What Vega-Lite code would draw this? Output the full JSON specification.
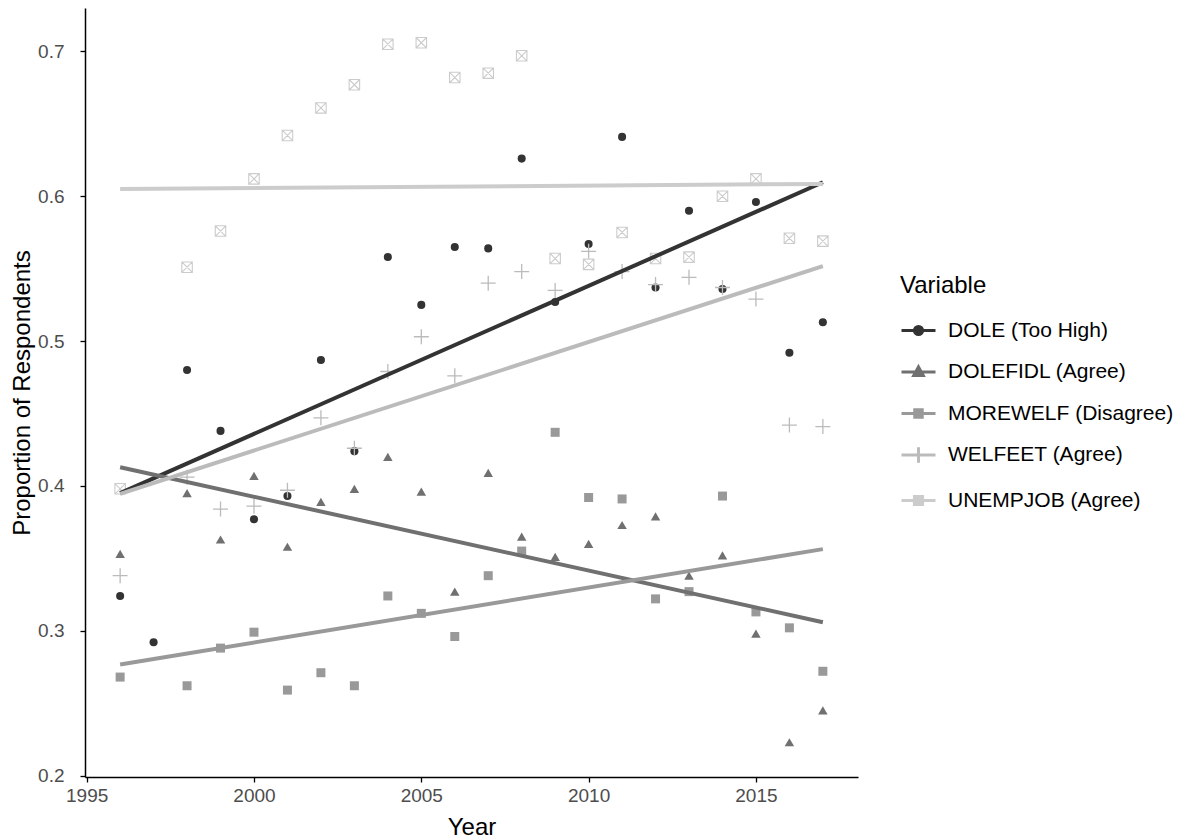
{
  "$schema": "https://vega.github.io/schema/vega-lite/v6.json",
  "width": 773,
  "height": 769,
  "autosize": {"type": "none"},
  "padding": {"left": 85, "top": 8, "right": 338, "bottom": 63},
  "background": "white",
  "config": {
    "font": "Liberation Sans",
    "view": {"stroke": null},
    "axis": {
      "grid": false,
      "domainColor": "#000000",
      "domainWidth": 1.5,
      "tickColor": "#000000",
      "tickWidth": 1.3,
      "tickSize": 5,
      "labelColor": "#4d4d4d",
      "labelFontSize": 19,
      "titleFontSize": 24,
      "titleFontWeight": "normal",
      "titleColor": "#000000"
    },
    "legend": {
      "titleFontSize": 24,
      "titleFontWeight": "normal",
      "titleColor": "#000000",
      "labelFontSize": 21,
      "labelColor": "#000000",
      "labelLimit": 400
    }
  },
  "data": {
    "values": [
      {"Year": 1996, "Variable": "DOLE (Too High)", "Proportion": 0.324},
      {"Year": 1997, "Variable": "DOLE (Too High)", "Proportion": 0.292},
      {"Year": 1998, "Variable": "DOLE (Too High)", "Proportion": 0.480},
      {"Year": 1999, "Variable": "DOLE (Too High)", "Proportion": 0.438},
      {"Year": 2000, "Variable": "DOLE (Too High)", "Proportion": 0.377},
      {"Year": 2001, "Variable": "DOLE (Too High)", "Proportion": 0.393},
      {"Year": 2002, "Variable": "DOLE (Too High)", "Proportion": 0.487},
      {"Year": 2003, "Variable": "DOLE (Too High)", "Proportion": 0.424},
      {"Year": 2004, "Variable": "DOLE (Too High)", "Proportion": 0.558},
      {"Year": 2005, "Variable": "DOLE (Too High)", "Proportion": 0.525},
      {"Year": 2006, "Variable": "DOLE (Too High)", "Proportion": 0.565},
      {"Year": 2007, "Variable": "DOLE (Too High)", "Proportion": 0.564},
      {"Year": 2008, "Variable": "DOLE (Too High)", "Proportion": 0.626},
      {"Year": 2009, "Variable": "DOLE (Too High)", "Proportion": 0.527},
      {"Year": 2010, "Variable": "DOLE (Too High)", "Proportion": 0.567},
      {"Year": 2011, "Variable": "DOLE (Too High)", "Proportion": 0.641},
      {"Year": 2012, "Variable": "DOLE (Too High)", "Proportion": 0.537},
      {"Year": 2013, "Variable": "DOLE (Too High)", "Proportion": 0.590},
      {"Year": 2014, "Variable": "DOLE (Too High)", "Proportion": 0.536},
      {"Year": 2015, "Variable": "DOLE (Too High)", "Proportion": 0.596},
      {"Year": 2016, "Variable": "DOLE (Too High)", "Proportion": 0.492},
      {"Year": 2017, "Variable": "DOLE (Too High)", "Proportion": 0.513},
      {"Year": 1996, "Variable": "DOLEFIDL (Agree)", "Proportion": 0.353},
      {"Year": 1998, "Variable": "DOLEFIDL (Agree)", "Proportion": 0.395},
      {"Year": 1999, "Variable": "DOLEFIDL (Agree)", "Proportion": 0.363},
      {"Year": 2000, "Variable": "DOLEFIDL (Agree)", "Proportion": 0.407},
      {"Year": 2001, "Variable": "DOLEFIDL (Agree)", "Proportion": 0.358},
      {"Year": 2002, "Variable": "DOLEFIDL (Agree)", "Proportion": 0.389},
      {"Year": 2003, "Variable": "DOLEFIDL (Agree)", "Proportion": 0.398},
      {"Year": 2004, "Variable": "DOLEFIDL (Agree)", "Proportion": 0.420},
      {"Year": 2005, "Variable": "DOLEFIDL (Agree)", "Proportion": 0.396},
      {"Year": 2006, "Variable": "DOLEFIDL (Agree)", "Proportion": 0.327},
      {"Year": 2007, "Variable": "DOLEFIDL (Agree)", "Proportion": 0.409},
      {"Year": 2008, "Variable": "DOLEFIDL (Agree)", "Proportion": 0.365},
      {"Year": 2009, "Variable": "DOLEFIDL (Agree)", "Proportion": 0.351},
      {"Year": 2010, "Variable": "DOLEFIDL (Agree)", "Proportion": 0.360},
      {"Year": 2011, "Variable": "DOLEFIDL (Agree)", "Proportion": 0.373},
      {"Year": 2012, "Variable": "DOLEFIDL (Agree)", "Proportion": 0.379},
      {"Year": 2013, "Variable": "DOLEFIDL (Agree)", "Proportion": 0.338},
      {"Year": 2014, "Variable": "DOLEFIDL (Agree)", "Proportion": 0.352},
      {"Year": 2015, "Variable": "DOLEFIDL (Agree)", "Proportion": 0.298},
      {"Year": 2016, "Variable": "DOLEFIDL (Agree)", "Proportion": 0.223},
      {"Year": 2017, "Variable": "DOLEFIDL (Agree)", "Proportion": 0.245},
      {"Year": 1996, "Variable": "MOREWELF (Disagree)", "Proportion": 0.268},
      {"Year": 1998, "Variable": "MOREWELF (Disagree)", "Proportion": 0.262},
      {"Year": 1999, "Variable": "MOREWELF (Disagree)", "Proportion": 0.288},
      {"Year": 2000, "Variable": "MOREWELF (Disagree)", "Proportion": 0.299},
      {"Year": 2001, "Variable": "MOREWELF (Disagree)", "Proportion": 0.259},
      {"Year": 2002, "Variable": "MOREWELF (Disagree)", "Proportion": 0.271},
      {"Year": 2003, "Variable": "MOREWELF (Disagree)", "Proportion": 0.262},
      {"Year": 2004, "Variable": "MOREWELF (Disagree)", "Proportion": 0.324},
      {"Year": 2005, "Variable": "MOREWELF (Disagree)", "Proportion": 0.312},
      {"Year": 2006, "Variable": "MOREWELF (Disagree)", "Proportion": 0.296},
      {"Year": 2007, "Variable": "MOREWELF (Disagree)", "Proportion": 0.338},
      {"Year": 2008, "Variable": "MOREWELF (Disagree)", "Proportion": 0.355},
      {"Year": 2009, "Variable": "MOREWELF (Disagree)", "Proportion": 0.437},
      {"Year": 2010, "Variable": "MOREWELF (Disagree)", "Proportion": 0.392},
      {"Year": 2011, "Variable": "MOREWELF (Disagree)", "Proportion": 0.391},
      {"Year": 2012, "Variable": "MOREWELF (Disagree)", "Proportion": 0.322},
      {"Year": 2013, "Variable": "MOREWELF (Disagree)", "Proportion": 0.327},
      {"Year": 2014, "Variable": "MOREWELF (Disagree)", "Proportion": 0.393},
      {"Year": 2015, "Variable": "MOREWELF (Disagree)", "Proportion": 0.313},
      {"Year": 2016, "Variable": "MOREWELF (Disagree)", "Proportion": 0.302},
      {"Year": 2017, "Variable": "MOREWELF (Disagree)", "Proportion": 0.272},
      {"Year": 1996, "Variable": "WELFEET (Agree)", "Proportion": 0.338},
      {"Year": 1998, "Variable": "WELFEET (Agree)", "Proportion": 0.406},
      {"Year": 1999, "Variable": "WELFEET (Agree)", "Proportion": 0.384},
      {"Year": 2000, "Variable": "WELFEET (Agree)", "Proportion": 0.386},
      {"Year": 2001, "Variable": "WELFEET (Agree)", "Proportion": 0.397},
      {"Year": 2002, "Variable": "WELFEET (Agree)", "Proportion": 0.447},
      {"Year": 2003, "Variable": "WELFEET (Agree)", "Proportion": 0.426},
      {"Year": 2004, "Variable": "WELFEET (Agree)", "Proportion": 0.479},
      {"Year": 2005, "Variable": "WELFEET (Agree)", "Proportion": 0.503},
      {"Year": 2006, "Variable": "WELFEET (Agree)", "Proportion": 0.476},
      {"Year": 2007, "Variable": "WELFEET (Agree)", "Proportion": 0.540},
      {"Year": 2008, "Variable": "WELFEET (Agree)", "Proportion": 0.548},
      {"Year": 2009, "Variable": "WELFEET (Agree)", "Proportion": 0.535},
      {"Year": 2010, "Variable": "WELFEET (Agree)", "Proportion": 0.562},
      {"Year": 2011, "Variable": "WELFEET (Agree)", "Proportion": 0.548},
      {"Year": 2012, "Variable": "WELFEET (Agree)", "Proportion": 0.539},
      {"Year": 2013, "Variable": "WELFEET (Agree)", "Proportion": 0.544},
      {"Year": 2014, "Variable": "WELFEET (Agree)", "Proportion": 0.537},
      {"Year": 2015, "Variable": "WELFEET (Agree)", "Proportion": 0.529},
      {"Year": 2016, "Variable": "WELFEET (Agree)", "Proportion": 0.442},
      {"Year": 2017, "Variable": "WELFEET (Agree)", "Proportion": 0.441},
      {"Year": 1996, "Variable": "UNEMPJOB (Agree)", "Proportion": 0.398},
      {"Year": 1998, "Variable": "UNEMPJOB (Agree)", "Proportion": 0.551},
      {"Year": 1999, "Variable": "UNEMPJOB (Agree)", "Proportion": 0.576},
      {"Year": 2000, "Variable": "UNEMPJOB (Agree)", "Proportion": 0.612},
      {"Year": 2001, "Variable": "UNEMPJOB (Agree)", "Proportion": 0.642},
      {"Year": 2002, "Variable": "UNEMPJOB (Agree)", "Proportion": 0.661},
      {"Year": 2003, "Variable": "UNEMPJOB (Agree)", "Proportion": 0.677},
      {"Year": 2004, "Variable": "UNEMPJOB (Agree)", "Proportion": 0.705},
      {"Year": 2005, "Variable": "UNEMPJOB (Agree)", "Proportion": 0.706},
      {"Year": 2006, "Variable": "UNEMPJOB (Agree)", "Proportion": 0.682},
      {"Year": 2007, "Variable": "UNEMPJOB (Agree)", "Proportion": 0.685},
      {"Year": 2008, "Variable": "UNEMPJOB (Agree)", "Proportion": 0.697},
      {"Year": 2009, "Variable": "UNEMPJOB (Agree)", "Proportion": 0.557},
      {"Year": 2010, "Variable": "UNEMPJOB (Agree)", "Proportion": 0.553},
      {"Year": 2011, "Variable": "UNEMPJOB (Agree)", "Proportion": 0.575},
      {"Year": 2012, "Variable": "UNEMPJOB (Agree)", "Proportion": 0.557},
      {"Year": 2013, "Variable": "UNEMPJOB (Agree)", "Proportion": 0.558},
      {"Year": 2014, "Variable": "UNEMPJOB (Agree)", "Proportion": 0.600},
      {"Year": 2015, "Variable": "UNEMPJOB (Agree)", "Proportion": 0.612},
      {"Year": 2016, "Variable": "UNEMPJOB (Agree)", "Proportion": 0.571},
      {"Year": 2017, "Variable": "UNEMPJOB (Agree)", "Proportion": 0.569}
    ]
  },
  "encoding": {
    "x": {
      "field": "Year", "type": "quantitative",
      "scale": {"domain": [1994.95, 2018.05], "nice": false, "zero": false},
      "axis": {"values": [1995, 2000, 2005, 2010, 2015], "format": "d", "title": "Year", "labelPadding": 4, "titlePadding": 10}
    },
    "y": {
      "field": "Proportion", "type": "quantitative",
      "scale": {"domain": [0.199, 0.730], "nice": false, "zero": false},
      "axis": {"values": [0.2, 0.3, 0.4, 0.5, 0.6, 0.7], "format": ".1f", "title": "Proportion of Respondents", "labelPadding": 16, "titlePadding": 3}
    },
    "color": {
      "field": "Variable", "type": "nominal",
      "scale": {
        "domain": ["DOLE (Too High)", "DOLEFIDL (Agree)", "MOREWELF (Disagree)", "WELFEET (Agree)", "UNEMPJOB (Agree)"],
        "range": ["#333333", "#707070", "#999999", "#bbbbbb", "#cccccc"]
      },
      "legend": {
        "title": "Variable",
        "orient": "none",
        "legendX": 815,
        "legendY": 266,
        "symbolSize": 1156,
        "labelOffset": 11,
        "rowPadding": 12.5,
        "titlePadding": 14,
        "encode": {
          "symbols": {
            "update": {
              "shape": {"signal": "datum.value === 'DOLE (Too High)' ? 'M-1,0H1M0.24,0A0.24,0.24 0 1 1 -0.24,0A0.24,0.24 0 1 1 0.24,0Z' : datum.value === 'DOLEFIDL (Agree)' ? 'M-1,0H1M0,-0.3L0.28,0.2L-0.28,0.2Z' : datum.value === 'MOREWELF (Disagree)' ? 'M-1,0H1M-0.22,-0.22H0.22V0.22H-0.22Z' : datum.value === 'WELFEET (Agree)' ? 'M-1,0H1M0,-0.45V0.45' : 'M-1,0H-0.24M0.24,0H1M-0.24,-0.24H0.24V0.24H-0.24ZM-0.24,-0.24L0.24,0.24M0.24,-0.24L-0.24,0.24'"},
              "fill": {"signal": "datum.value === 'DOLE (Too High)' ? '#333333' : datum.value === 'DOLEFIDL (Agree)' ? '#707070' : datum.value === 'MOREWELF (Disagree)' ? '#999999' : 'transparent'"},
              "stroke": {"signal": "datum.value === 'DOLE (Too High)' ? '#333333' : datum.value === 'DOLEFIDL (Agree)' ? '#707070' : datum.value === 'MOREWELF (Disagree)' ? '#999999' : datum.value === 'WELFEET (Agree)' ? '#bbbbbb' : '#cccccc'"},
              "strokeWidth": {"value": 3},
              "size": {"value": 1156},
              "opacity": {"value": 1}
            }
          }
        }
      }
    }
  },
  "layer": [
    {
      "transform": [{"filter": "datum.Variable === 'DOLE (Too High)'"}],
      "mark": {"type": "point", "shape": "circle", "filled": true, "opacity": 1, "size": 65},
      "encoding": {}
    },
    {
      "transform": [{"filter": "datum.Variable === 'DOLEFIDL (Agree)'"}],
      "mark": {"type": "point", "shape": "triangle-up", "filled": true, "opacity": 1, "size": 90},
      "encoding": {}
    },
    {
      "transform": [{"filter": "datum.Variable === 'MOREWELF (Disagree)'"}],
      "mark": {"type": "point", "shape": "square", "filled": true, "opacity": 1, "size": 81},
      "encoding": {}
    },
    {
      "transform": [{"filter": "datum.Variable === 'WELFEET (Agree)'"}],
      "mark": {"type": "point", "shape": "M-1,0H1M0,-1V1", "filled": false, "opacity": 1, "size": 225, "strokeWidth": 1.3},
      "encoding": {}
    },
    {
      "transform": [{"filter": "datum.Variable === 'UNEMPJOB (Agree)'"}],
      "mark": {"type": "point", "shape": "M-1,-1H1V1H-1ZM-1,-1L1,1M1,-1L-1,1", "filled": false, "opacity": 1, "size": 110, "strokeWidth": 1.1},
      "encoding": {}
    },
    {
      "transform": [{"regression": "Proportion", "on": "Year", "groupby": ["Variable"]}],
      "mark": {"type": "line", "strokeWidth": 4},
      "encoding": {}
    }
  ]
}
